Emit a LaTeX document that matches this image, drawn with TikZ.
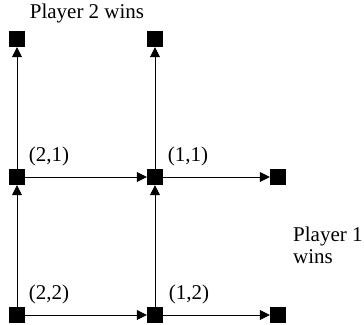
\documentclass[tikz,border=0pt]{standalone}
\usepackage{fontspec}
\setmainfont{Liberation Serif}
\usetikzlibrary{arrows.meta}

\begin{document}
\begin{tikzpicture}[x=1pt,y=1pt,
  state/.style={fill=black, inner sep=0pt, minimum size=16pt},
  move/.style={-{Triangle[length=10pt,width=10pt]}, line width=0.8pt},
  lbl/.style={font=\fontsize{21}{22}\selectfont, inner sep=0pt, anchor=base}]
\useasboundingbox (0,0) rectangle (364,324);

% States of the game
\node[state] (s22) at (17,9) {};
\node[state] (s12) at (155,9) {};
\node[state] (s21) at (17,147) {};
\node[state] (s11) at (155,147) {};

% Terminal states
\node[state] (top1) at (17,285) {};
\node[state] (top2) at (155,285) {};
\node[state] (right1) at (278,147) {};
\node[state] (right2) at (278,9) {};

% Moves
\draw[move] (s22) -- (s12);
\draw[move] (s22) -- (s21);
\draw[move] (s12) -- (s11);
\draw[move] (s12) -- (right2);
\draw[move] (s21) -- (s11);
\draw[move] (s21) -- (top1);
\draw[move] (s11) -- (top2);
\draw[move] (s11) -- (right1);

% Labels
\node[lbl] (l21) at (49,162) {(2,1)};
\node[lbl] (l11) at (188,162) {(1,1)};
\node[lbl] (l22) at (49,24.5) {(2,2)};
\node[lbl] (l12) at (189,24.5) {(1,2)};

\node[lbl] (win2) at (87,305) {Player 2 wins};
\node[lbl, align=left, anchor=north west] (win1) at (293,97) {Player 1\\wins};

\end{tikzpicture}
\end{document}
